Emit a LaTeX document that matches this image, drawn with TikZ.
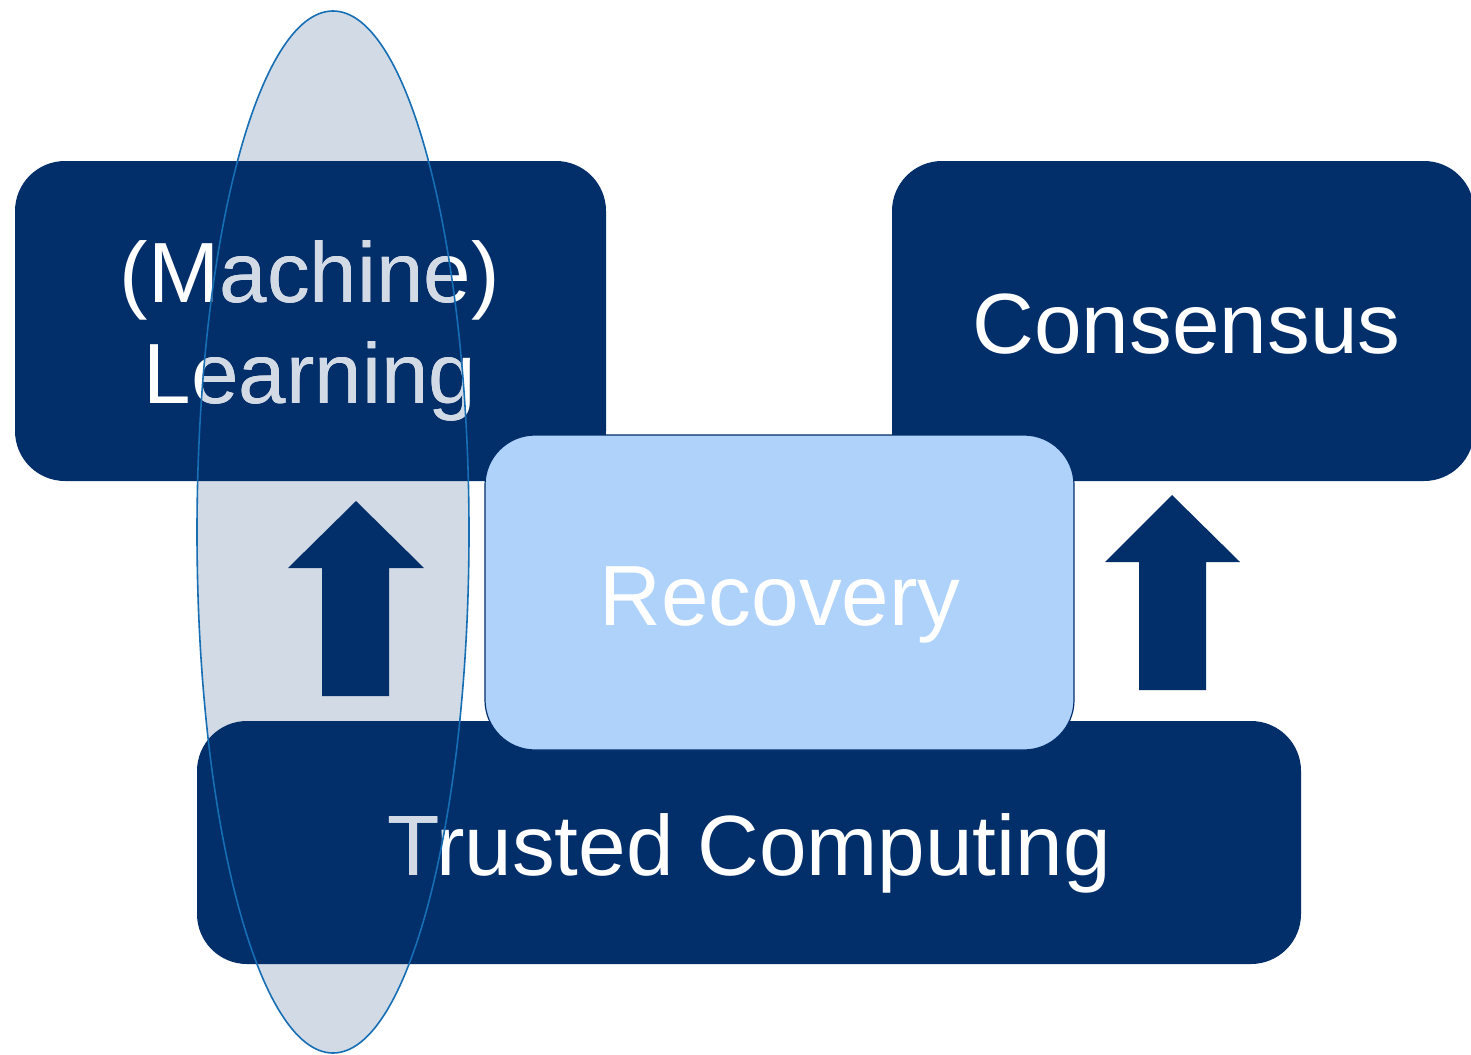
\documentclass[tikz,border=0pt]{standalone}
\usepackage{fontspec}
\setmainfont{Liberation Sans}
\definecolor{navy}{RGB}{2,46,106}
\definecolor{lightblue}{RGB}{175,210,251}
\definecolor{ellfill}{RGB}{210,218,229}
\definecolor{ellline}{RGB}{22,110,180}
\tikzset{
  box/.style={fill=navy, draw=none, rounded corners=50pt, inner sep=0pt, outer sep=0pt},
  recbox/.style={fill=lightblue, draw=navy, line width=1.2pt, rounded corners=50pt, inner sep=0pt, outer sep=0pt},
  lbl/.style={anchor=base, inner sep=0pt, outer sep=0pt, font=\fontsize{85.5}{100}\selectfont},
  blockarrow/.style={fill=navy, draw=none},
}
\begin{document}
\begin{tikzpicture}[x=1pt, y=-1pt]
\useasboundingbox (0,0) rectangle (1471,1054);
\fill[white] (0,0) rectangle (1471,1054);
% ellipse fill
\fill[ellfill] (333,532) ellipse [x radius=136pt, y radius=521pt];
% boxes
\node[box, minimum width=591pt, minimum height=320pt] (ml) at (310.5,321) {};
\node[box, minimum width=582pt, minimum height=320pt] (cons) at (1183,321) {};
\node[box, minimum width=1104pt, minimum height=243pt] (tc) at (749,842.5) {};
% block arrows
\fill[blockarrow] (322,696) -- (322,568) -- (288,568) -- (356,501) -- (424,568) -- (389,568) -- (389,696) -- cycle;
\fill[blockarrow] (1139,690) -- (1139,562) -- (1105,562) -- (1172,495) -- (1240,562) -- (1206,562) -- (1206,690) -- cycle;
% recovery box
\node[recbox, minimum width=589pt, minimum height=315pt] (rec) at (779.5,592.5) {};
% texts
\newcommand\mytexts[2]{%
  \node[lbl, text=#1] (mlA#2) at (310,302) {(Machine)};
  \node[lbl, text=#1] (mlB#2) at (310,403) {Learning};
  \node[lbl, text=#1] (tcT#2) at (749,875) {Trusted Computing};
}
\mytexts{white}{w}
\node[lbl, text=white] (consT) at (1186.5,353) {Consensus};
\node[lbl, text=white] (recT) at (780,625) {Recovery};
\begin{scope}
  \clip (333,532) ellipse [x radius=136pt, y radius=521pt];
  \mytexts{ellfill}{g}
\end{scope}
% ellipse outline
\draw[ellline, line width=1.6pt] (333,532) ellipse [x radius=136pt, y radius=521pt];
\end{tikzpicture}
\end{document}
